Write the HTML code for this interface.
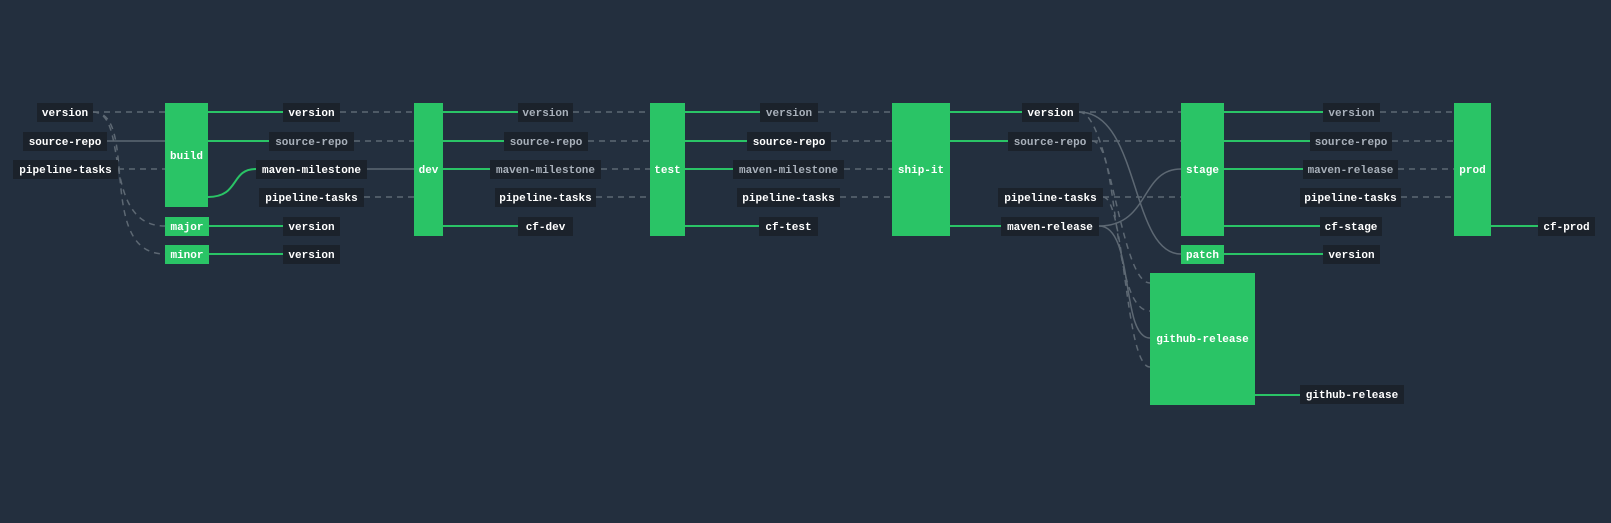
<!DOCTYPE html>
<html><head><meta charset="utf-8"><style>
html,body{margin:0;padding:0;background:#232f3e;}
svg{display:block;}
text{font-family:"Liberation Mono",monospace;font-weight:bold;font-size:11px;text-anchor:middle;fill:#fff;}
.g{fill:#a9b1bb;}
.lb{fill:#1b222b;}
.job{fill:#2ac466;}
.d{stroke:#5d6873;stroke-width:1.5;stroke-dasharray:6,5;fill:none;}
.s{stroke:#5d6873;stroke-width:1.5;fill:none;}
.o{stroke:#2ac466;stroke-width:2;fill:none;}
</style></head><body>
<svg width="1611" height="523" viewBox="0 0 1611 523">
<!-- edges -->
<!-- build inputs -->
<path class="d" d="M93 112H165"/>
<path class="s" d="M107 141H165"/>
<path class="d" d="M118 169H165"/>
<path class="d" d="M93 112C130 112 100 226 165 226"/>
<path class="d" d="M93 112C140 112 95 254 165 254"/>
<!-- build outputs -->
<path class="o" d="M208 112H283"/>
<path class="o" d="M208 141H269"/>
<path class="o" d="M208 197C240 197 230 169 256 169"/>
<path class="o" d="M209 226H283"/>
<path class="o" d="M209 254H283"/>
<!-- dev inputs -->
<path class="d" d="M340 112H414"/>
<path class="d" d="M354 141H414"/>
<path class="s" d="M367 169H414"/>
<path class="d" d="M364 197H414"/>
<!-- dev outputs -->
<path class="o" d="M443 112H518"/>
<path class="o" d="M443 141H504"/>
<path class="o" d="M443 169H490"/>
<path class="o" d="M443 226H518"/>
<!-- test inputs -->
<path class="d" d="M573 112H650"/>
<path class="d" d="M588 141H650"/>
<path class="d" d="M601 169H650"/>
<path class="d" d="M596 197H650"/>
<path class="o" d="M685 112H760"/>
<path class="o" d="M685 141H747"/>
<path class="o" d="M685 169H733"/>
<path class="o" d="M685 226H759"/>
<!-- ship-it inputs -->
<path class="d" d="M818 112H892"/>
<path class="d" d="M831 141H892"/>
<path class="d" d="M844 169H892"/>
<path class="d" d="M840 197H892"/>
<path class="o" d="M950 112H1022"/>
<path class="o" d="M950 141H1008"/>
<path class="o" d="M950 226H1001"/>
<!-- stage inputs -->
<path class="d" d="M1079 112H1181"/>
<path class="d" d="M1092 141H1181"/>
<path class="d" d="M1103 197H1181"/>
<path class="s" d="M1099 226C1150 226 1140 169 1181 169"/>
<path class="s" d="M1079 112C1140 112 1130 254 1181 254"/>
<!-- github-release inputs -->
<path class="d" d="M1079 112C1110 112 1120 283 1150 283"/>
<path class="d" d="M1092 141C1120 141 1110 311 1150 311"/>
<path class="s" d="M1099 226C1135 226 1120 338 1150 338"/>
<path class="d" d="M1103 197C1125 197 1125 367 1150 367"/>
<!-- stage outputs -->
<path class="o" d="M1224 112H1323"/>
<path class="o" d="M1224 141H1310"/>
<path class="o" d="M1224 169H1303"/>
<path class="o" d="M1224 226H1320"/>
<path class="o" d="M1224 254H1323"/>
<path class="o" d="M1255 395H1300"/>
<!-- prod -->
<path class="d" d="M1380 112H1454"/>
<path class="d" d="M1392 141H1454"/>
<path class="d" d="M1398 169H1454"/>
<path class="d" d="M1401 197H1454"/>
<path class="o" d="M1491 226H1538"/>

<!-- jobs -->
<rect class="job" x="165" y="103" width="43" height="104"/><text x="186.5" y="159">build</text>
<rect class="job" x="165" y="217" width="44" height="19"/><text x="187" y="230">major</text>
<rect class="job" x="165" y="245" width="44" height="19"/><text x="187" y="258">minor</text>
<rect class="job" x="414" y="103" width="29" height="133"/><text x="428.5" y="173">dev</text>
<rect class="job" x="650" y="103" width="35" height="133"/><text x="667.5" y="173">test</text>
<rect class="job" x="892" y="103" width="58" height="133"/><text x="921" y="173">ship-it</text>
<rect class="job" x="1181" y="103" width="43" height="133"/><text x="1202.5" y="173">stage</text>
<rect class="job" x="1181" y="245" width="43" height="19"/><text x="1202.5" y="258">patch</text>
<rect class="job" x="1150" y="273" width="105" height="132"/><text x="1202.5" y="342">github-release</text>
<rect class="job" x="1454" y="103" width="37" height="133"/><text x="1472.5" y="173">prod</text>

<!-- labels -->
<rect class="lb" x="37" y="103" width="56" height="19"/><text x="65" y="116">version</text>
<rect class="lb" x="23" y="132" width="84" height="19"/><text x="65" y="145">source-repo</text>
<rect class="lb" x="13" y="160" width="105" height="19"/><text x="65.5" y="173">pipeline-tasks</text>

<rect class="lb" x="283" y="103" width="57" height="19"/><text x="311.5" y="116">version</text>
<rect class="lb" x="269" y="132" width="85" height="19"/><text class="g" x="311.5" y="145">source-repo</text>
<rect class="lb" x="256" y="160" width="111" height="19"/><text x="311.5" y="173">maven-milestone</text>
<rect class="lb" x="259" y="188" width="105" height="19"/><text x="311.5" y="201">pipeline-tasks</text>
<rect class="lb" x="283" y="217" width="57" height="19"/><text x="311.5" y="230">version</text>
<rect class="lb" x="283" y="245" width="57" height="19"/><text x="311.5" y="258">version</text>

<rect class="lb" x="518" y="103" width="55" height="19"/><text class="g" x="545.5" y="116">version</text>
<rect class="lb" x="504" y="132" width="84" height="19"/><text class="g" x="546" y="145">source-repo</text>
<rect class="lb" x="490" y="160" width="111" height="19"/><text class="g" x="545.5" y="173">maven-milestone</text>
<rect class="lb" x="495" y="188" width="101" height="19"/><text x="545.5" y="201">pipeline-tasks</text>
<rect class="lb" x="518" y="217" width="55" height="19"/><text x="545.5" y="230">cf-dev</text>

<rect class="lb" x="760" y="103" width="58" height="19"/><text class="g" x="789" y="116">version</text>
<rect class="lb" x="747" y="132" width="84" height="19"/><text x="789" y="145">source-repo</text>
<rect class="lb" x="733" y="160" width="111" height="19"/><text class="g" x="788.5" y="173">maven-milestone</text>
<rect class="lb" x="737" y="188" width="103" height="19"/><text x="788.5" y="201">pipeline-tasks</text>
<rect class="lb" x="759" y="217" width="59" height="19"/><text x="788.5" y="230">cf-test</text>

<rect class="lb" x="1022" y="103" width="57" height="19"/><text x="1050.5" y="116">version</text>
<rect class="lb" x="1008" y="132" width="84" height="19"/><text class="g" x="1050" y="145">source-repo</text>
<rect class="lb" x="998" y="188" width="105" height="19"/><text x="1050.5" y="201">pipeline-tasks</text>
<rect class="lb" x="1001" y="217" width="98" height="19"/><text x="1050" y="230">maven-release</text>

<rect class="lb" x="1323" y="103" width="57" height="19"/><text class="g" x="1351.5" y="116">version</text>
<rect class="lb" x="1310" y="132" width="82" height="19"/><text class="g" x="1351" y="145">source-repo</text>
<rect class="lb" x="1303" y="160" width="95" height="19"/><text class="g" x="1350.5" y="173">maven-release</text>
<rect class="lb" x="1300" y="188" width="101" height="19"/><text x="1350.5" y="201">pipeline-tasks</text>
<rect class="lb" x="1320" y="217" width="62" height="19"/><text x="1351" y="230">cf-stage</text>
<rect class="lb" x="1323" y="245" width="57" height="19"/><text x="1351.5" y="258">version</text>
<rect class="lb" x="1300" y="385" width="104" height="19"/><text x="1352" y="398">github-release</text>

<rect class="lb" x="1538" y="217" width="57" height="19"/><text x="1566.5" y="230">cf-prod</text>
</svg>
</body></html>
